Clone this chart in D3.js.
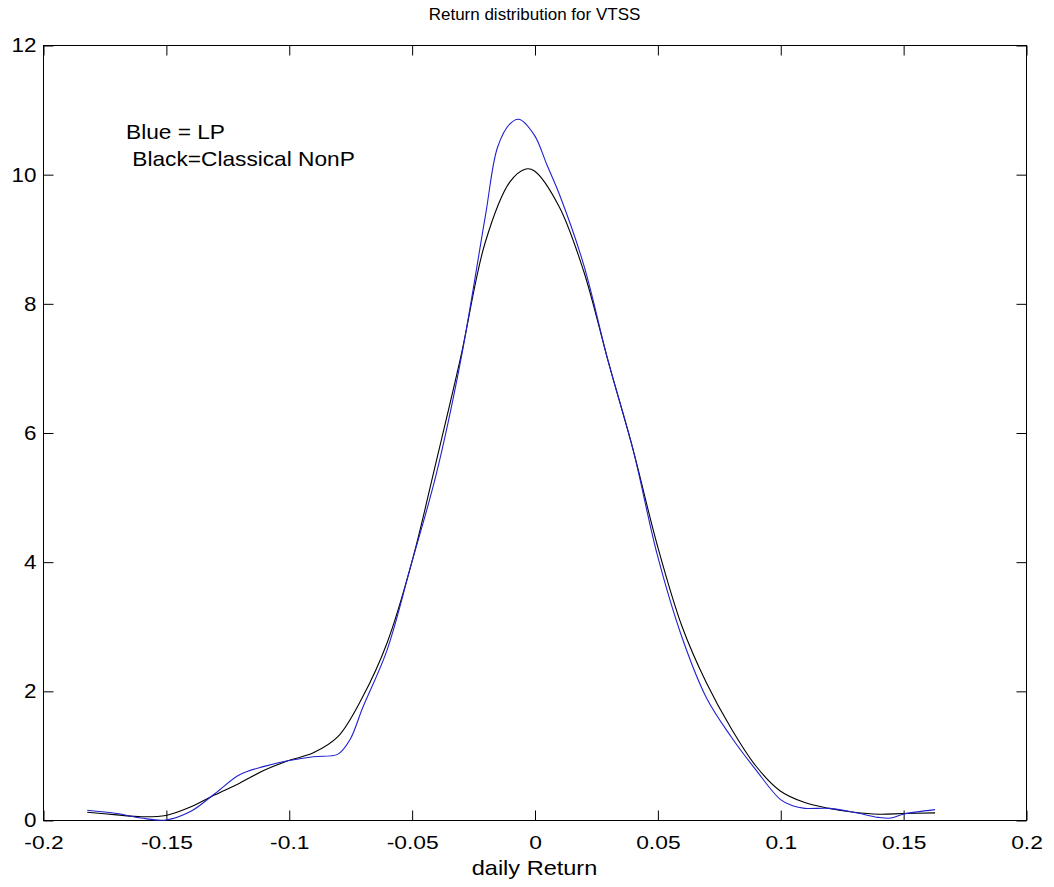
<!DOCTYPE html>
<html>
<head>
<meta charset="utf-8">
<script src="https://cdn.jsdelivr.net/npm/d3@7"></script>
<style>
  html, body { margin: 0; padding: 0; background: #fff; }
  svg { display: block; }
  text { font-family: "Liberation Sans", Arial, sans-serif; fill: #000; }
</style>
</head>
<body>
<svg id="chart" width="1054" height="887"></svg>
<script>
// ---- data ----
const blackX = [-0.182, -0.17, -0.16, -0.15, -0.14, -0.13, -0.12, -0.11, -0.10, -0.09, -0.08, -0.07, -0.06, -0.05, -0.04, -0.03, -0.02, -0.01, -0.0035, 0.0, 0.01, 0.02, 0.03, 0.04, 0.05, 0.06, 0.07, 0.08, 0.09, 0.10, 0.11, 0.12, 0.13, 0.14, 0.15, 0.163];
const blackY = [0.12, 0.08, 0.05, 0.07, 0.20, 0.39, 0.57, 0.77, 0.92, 1.04, 1.29, 1.90, 2.74, 3.98, 5.55, 7.17, 8.95, 9.88, 10.08, 10.05, 9.50, 8.50, 7.10, 5.75, 4.25, 3.00, 2.12, 1.42, 0.84, 0.45, 0.27, 0.18, 0.12, 0.09, 0.10, 0.11];

const blueX = [-0.182, -0.17, -0.16, -0.15, -0.14, -0.13, -0.12, -0.11, -0.10, -0.09, -0.08, -0.075, -0.07, -0.06, -0.05, -0.04, -0.03, -0.02, -0.015, -0.01, -0.0063, 0.0, 0.005, 0.01, 0.02, 0.03, 0.04, 0.05, 0.06, 0.07, 0.08, 0.09, 0.10, 0.105, 0.11, 0.12, 0.13, 0.14, 0.145, 0.15, 0.163];
const blueY = [0.15, 0.10, 0.03, 0.00, 0.13, 0.41, 0.70, 0.83, 0.92, 0.98, 1.02, 1.25, 1.73, 2.63, 3.98, 5.35, 7.12, 9.35, 10.42, 10.78, 10.85, 10.60, 10.15, 9.70, 8.60, 7.10, 5.75, 4.10, 2.83, 1.89, 1.29, 0.78, 0.32, 0.22, 0.18, 0.18, 0.12, 0.04, 0.03, 0.09, 0.16];

const xTicks = [-0.2, -0.15, -0.1, -0.05, 0, 0.05, 0.1, 0.15, 0.2];
const xTickLabels = ["-0.2", "-0.15", "-0.1", "-0.05", "0", "0.05", "0.1", "0.15", "0.2"];
const yTicks = [0, 2, 4, 6, 8, 10, 12];
const yTickLabels = ["0", "2", "4", "6", "8", "10", "12"];

const titleText = "Return distribution for VTSS";
const xLabelText = "daily Return";
const legendLines = ["Blue = LP", " Black=Classical NonP"];

// ---- layout ----
const svg = d3.select("#chart");
const L = 43, R = 1026, T = 45, B = 820;

const x = d3.scaleLinear().domain([-0.2, 0.2]).range([L, R]);
const y = d3.scaleLinear().domain([0, 12]).range([B, T]);

// widen glyphs horizontally (the reference text is horizontally stretched)
function stretch(sel, k) {
  sel.each(function () {
    const w = this.getComputedTextLength();
    if (w > 0) {
      this.setAttribute("textLength", (w * k).toFixed(2));
      this.setAttribute("lengthAdjust", "spacingAndGlyphs");
    }
  });
}

// box
svg.append("rect")
  .attr("x", L + 0.5).attr("y", T + 0.5)
  .attr("width", R - L).attr("height", B - T)
  .attr("fill", "none").attr("stroke", "#000").attr("stroke-width", 1);

const tickLen = 10;
// x axis bottom (ticks inward)
const xAxisB = d3.axisBottom(x).tickValues(xTicks).tickSizeInner(-tickLen).tickSizeOuter(0)
  .tickPadding(15).tickFormat((d, i) => xTickLabels[i]);
const gxb = svg.append("g").attr("transform", `translate(0.5,${B + 0.5})`).call(xAxisB);
gxb.select(".domain").remove();
gxb.selectAll("text").attr("font-size", 19).attr("font-family", "Liberation Sans, Arial, sans-serif").attr("fill", "#000");
gxb.selectAll("line").attr("stroke", "#000");
stretch(gxb.selectAll("text"), 1.2);

// x axis top (mirror ticks)
const xAxisT = d3.axisTop(x).tickValues(xTicks).tickSizeInner(-tickLen).tickSizeOuter(0).tickFormat("");
const gxt = svg.append("g").attr("transform", `translate(0.5,${T + 0.5})`).call(xAxisT);
gxt.select(".domain").remove();
gxt.selectAll("line").attr("stroke", "#000");

// y axis left
const yAxisL = d3.axisLeft(y).tickValues(yTicks).tickSizeInner(-tickLen).tickSizeOuter(0)
  .tickPadding(7).tickFormat((d, i) => yTickLabels[i]);
const gyl = svg.append("g").attr("transform", `translate(${L + 0.5},0.5)`).call(yAxisL);
gyl.select(".domain").remove();
gyl.selectAll("text").attr("font-size", 20).attr("font-family", "Liberation Sans, Arial, sans-serif").attr("fill", "#000");
gyl.selectAll("line").attr("stroke", "#000");
stretch(gyl.selectAll("text"), 1.12);

// y axis right (mirror ticks)
const yAxisR = d3.axisRight(y).tickValues(yTicks).tickSizeInner(-tickLen).tickSizeOuter(0).tickFormat("");
const gyr = svg.append("g").attr("transform", `translate(${R + 0.5},0.5)`).call(yAxisR);
gyr.select(".domain").remove();
gyr.selectAll("line").attr("stroke", "#000");

// curves
const line = d3.line().x(d => x(d[0])).y(d => y(d[1])).curve(d3.curveCatmullRom.alpha(0.5));
const blackData = blackX.map((v, i) => [v, blackY[i]]);
const blueData = blueX.map((v, i) => [v, blueY[i]]);

svg.append("path").datum(blackData).attr("d", line)
  .attr("fill", "none").attr("stroke", "#000").attr("stroke-width", 1.1);
svg.append("path").datum(blueData).attr("d", line)
  .attr("fill", "none").attr("stroke", "#2020d0").attr("stroke-width", 1.1);

// title
svg.append("text").attr("x", (L + R) / 2).attr("y", 20)
  .attr("text-anchor", "middle").attr("font-size", 17).text(titleText);

// x label
const xl = svg.append("text").attr("x", (L + R) / 2).attr("y", 875)
  .attr("text-anchor", "middle").attr("font-size", 21).text(xLabelText);
stretch(xl, 1.12);

// legend text
const lg1 = svg.append("text").attr("x", 126).attr("y", 139).attr("font-size", 21).text(legendLines[0]);
const lg2 = svg.append("text").attr("x", 126).attr("y", 166).attr("font-size", 21)
  .attr("xml:space", "preserve").style("white-space", "pre").text(legendLines[1]);
stretch(lg1, 1.08);
stretch(lg2, 1.08);
</script>
</body>
</html>
